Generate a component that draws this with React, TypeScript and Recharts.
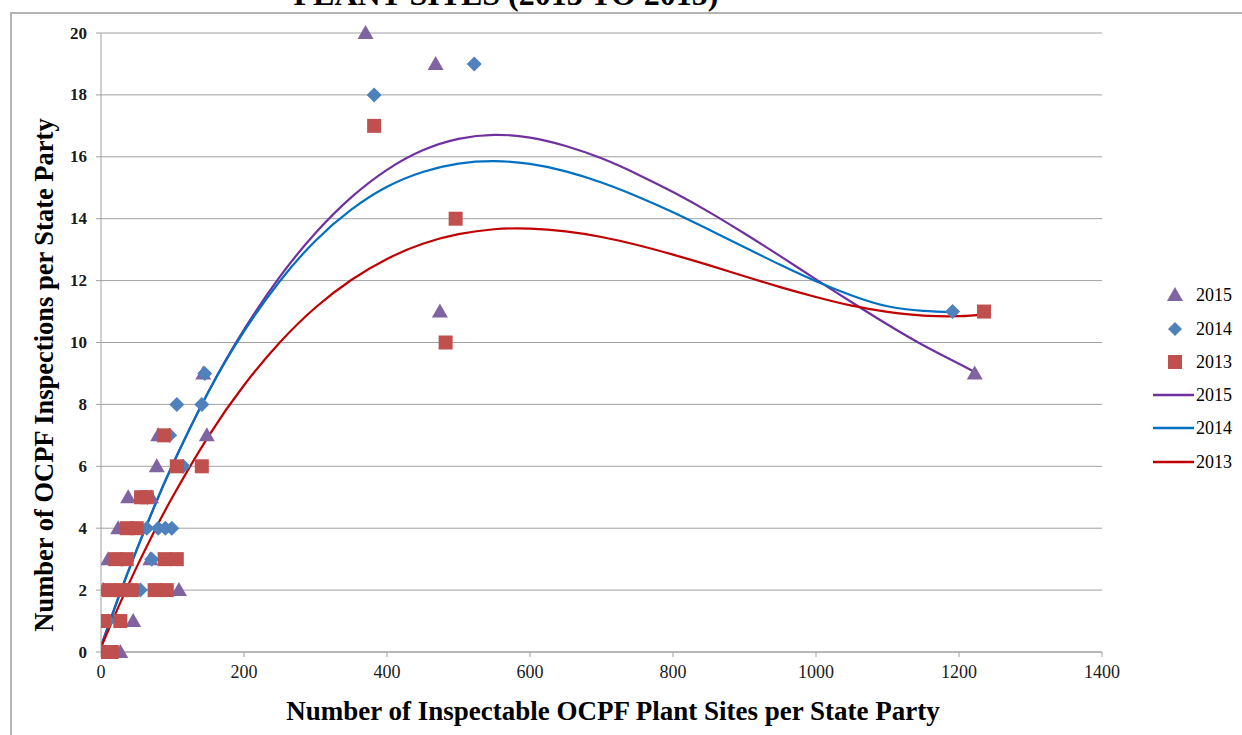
import React from 'react';
import { ComposedChart, Scatter, Line, XAxis, YAxis, CartesianGrid } from 'recharts';

// Scatter observations (x = inspectable plant sites, y = inspections)
const x2015 = [370, 468, 474, 1222, 143, 80, 148, 78, 38, 70, 24, 10, 69, 3, 109, 45, 27, 0];
const y2015 = [20, 19, 11, 9, 9, 7, 7, 6, 5, 5, 4, 3, 3, 2, 2, 1, 0, 0];

const x2014 = [382, 522, 1191, 145, 106, 141, 96, 115, 65, 64, 80, 90, 99, 71, 55, 30, 10, 0];
const y2014 = [18, 19, 11, 9, 8, 8, 7, 6, 5, 4, 4, 4, 4, 3, 2, 3, 1, 0];

const x2013 = [382, 496, 482, 1235, 88, 106, 141, 56, 64, 36, 50, 20, 36, 89, 106, 11, 28, 43, 75, 92, 4, 27, 3, 15];
const y2013 = [17, 14, 10, 11, 7, 6, 6, 5, 5, 4, 4, 3, 3, 3, 3, 2, 2, 2, 2, 2, 1, 1, 0, 0];

// Trend lines
const trendX2015 = [0, 25, 50, 75, 100, 150, 200, 250, 300, 350, 400, 450, 500, 550, 600, 650, 700, 750, 800, 850, 900, 950, 1000, 1050, 1100, 1150, 1200, 1222];
const trendY2015 = [0.2, 1.81, 3.31, 4.72, 6.04, 8.4, 10.42, 12.12, 13.54, 14.69, 15.58, 16.21, 16.58, 16.71, 16.62, 16.35, 15.95, 15.44, 14.86, 14.22, 13.52, 12.79, 12.04, 11.3, 10.58, 9.91, 9.31, 9.05];

const trendX2014 = [0, 25, 50, 75, 100, 150, 200, 250, 300, 350, 400, 450, 500, 550, 600, 650, 700, 750, 800, 850, 900, 950, 1000, 1050, 1100, 1150, 1191];
const trendY2014 = [0.15, 1.79, 3.31, 4.73, 6.05, 8.39, 10.36, 11.98, 13.29, 14.29, 15.03, 15.51, 15.78, 15.86, 15.77, 15.53, 15.17, 14.72, 14.21, 13.65, 13.08, 12.51, 11.98, 11.52, 11.17, 11.02, 10.98];

const trendX2013 = [0, 25, 50, 75, 100, 150, 200, 250, 300, 350, 400, 450, 500, 550, 600, 650, 700, 750, 800, 850, 900, 950, 1000, 1050, 1100, 1150, 1200, 1235];
const trendY2013 = [0.15, 1.49, 2.75, 3.92, 5.01, 6.96, 8.62, 10.0, 11.13, 12.02, 12.7, 13.19, 13.5, 13.66, 13.68, 13.59, 13.41, 13.15, 12.84, 12.5, 12.14, 11.79, 11.47, 11.19, 10.99, 10.87, 10.85, 10.91];

const xTicks = [0, 200, 400, 600, 800, 1000, 1200, 1400];
const yTicks = [0, 2, 4, 6, 8, 10, 12, 14, 16, 18, 20];

const zip = (xs: number[], ys: number[]) => xs.map((x, i) => ({ x, y: ys[i] }));

const pts2015 = zip(x2015, y2015);
const pts2014 = zip(x2014, y2014);
const pts2013 = zip(x2013, y2013);
const tr2015 = zip(trendX2015, trendY2015);
const tr2014 = zip(trendX2014, trendY2014);
const tr2013 = zip(trendX2013, trendY2013);

const C_TRI = '#8064A2';
const C_DIA = '#4F81BD';
const C_SQ = '#C0504D';
const L2015 = '#7030A0';
const L2014 = '#0070C0';
const L2013 = '#C00000';

const FONT = '"Liberation Serif", "Times New Roman", serif';

const Tri = (p: any) => {
  const { cx, cy } = p;
  if (cx == null || cy == null) return <g />;
  return <polygon points={`${cx},${cy - 8} ${cx - 8},${cy + 6} ${cx + 8},${cy + 6}`} fill={C_TRI} />;
};
const Dia = (p: any) => {
  const { cx, cy } = p;
  if (cx == null || cy == null) return <g />;
  return <polygon points={`${cx},${cy - 7.5} ${cx + 7.5},${cy} ${cx},${cy + 7.5} ${cx - 7.5},${cy}`} fill={C_DIA} />;
};
const Sq = (p: any) => {
  const { cx, cy } = p;
  if (cx == null || cy == null) return <g />;
  return <rect x={cx - 7} y={cy - 7} width={14} height={14} fill={C_SQ} />;
};

const XTick = (p: any) => {
  const { x, y, payload } = p;
  return (
    <text x={x} y={y + 7} textAnchor="middle" dominantBaseline="central" fontFamily={FONT} fontSize={18} fill="#1a1a1a">
      {payload.value}
    </text>
  );
};
const YTick = (p: any) => {
  const { x, y, payload } = p;
  return (
    <text x={x} y={y} textAnchor="end" dominantBaseline="central" fontFamily={FONT} fontSize={17} fontWeight="bold" fill="#1a1a1a">
      {payload.value}
    </text>
  );
};

const legendRows = [
  { kind: 'tri', label: '2015', y: 295 },
  { kind: 'dia', label: '2014', y: 329 },
  { kind: 'sq', label: '2013', y: 362 },
  { kind: 'line', color: L2015, label: '2015', y: 395 },
  { kind: 'line', color: L2014, label: '2014', y: 428 },
  { kind: 'line', color: L2013, label: '2013', y: 462 },
];

export default function App() {
  return (
    <div style={{ position: 'absolute', left: 0, top: 0, width: 1242, height: 735, overflow: 'hidden', background: '#fff' }}>
      <div style={{ position: 'absolute', left: 10, top: 12, width: 1300, height: 800, border: '2px solid #b4b4b4', boxSizing: 'border-box' }} />
      <div style={{ position: 'absolute', left: 0, top: 0 }}>
        <ComposedChart width={1242} height={735} margin={{ top: 33, right: 140, bottom: 43, left: 0 }}>
          <CartesianGrid vertical={false} stroke="#a0a0a0" strokeWidth={1} />
          <XAxis
            type="number"
            dataKey="x"
            domain={[0, 1400]}
            ticks={xTicks}
            interval={0}
            height={40}
            axisLine={{ stroke: '#a0a0a0' }}
            tickLine={{ stroke: '#a0a0a0' }}
            tickSize={5}
            tickMargin={8}
            tick={XTick}
            allowDataOverflow
          />
          <YAxis
            type="number"
            dataKey="y"
            domain={[0, 20]}
            ticks={yTicks}
            interval={0}
            width={101}
            axisLine={{ stroke: '#a0a0a0' }}
            tickLine={{ stroke: '#a0a0a0' }}
            tickSize={5}
            tickMargin={9}
            tick={YTick}
          />
          <Scatter data={pts2015} dataKey="y" shape={Tri} isAnimationActive={false} />
          <Scatter data={pts2014} dataKey="y" shape={Dia} isAnimationActive={false} />
          <Scatter data={pts2013} dataKey="y" shape={Sq} isAnimationActive={false} />
          <Line data={tr2015} dataKey="y" type="natural" stroke={L2015} strokeWidth={2.2} dot={false} activeDot={false} isAnimationActive={false} />
          <Line data={tr2014} dataKey="y" type="natural" stroke={L2014} strokeWidth={2.2} dot={false} activeDot={false} isAnimationActive={false} />
          <Line data={tr2013} dataKey="y" type="natural" stroke={L2013} strokeWidth={2.2} dot={false} activeDot={false} isAnimationActive={false} />
        </ComposedChart>
      </div>
      <svg width={1242} height={735} style={{ position: 'absolute', left: 0, top: 0, pointerEvents: 'none' }}>
        <text x={506} y={5} textAnchor="middle" fontFamily={FONT} fontWeight="bold" fontSize={32} fill="#000">
          PLANT SITES (2013 TO 2015)
        </text>
        <text
          x={44}
          y={375}
          transform="rotate(-90 44 375)"
          textAnchor="middle"
          dominantBaseline="central"
          fontFamily={FONT}
          fontWeight="bold"
          fontSize={26.5}
          fill="#000"
        >
          Number of OCPF Inspections per State Party
        </text>
        <text x={613} y={711} textAnchor="middle" dominantBaseline="central" fontFamily={FONT} fontWeight="bold" fontSize={27} fill="#000">
          Number of Inspectable OCPF Plant Sites per State Party
        </text>
        {legendRows.map((r, i) => (
          <g key={i}>
            {r.kind === 'tri' && <polygon points={`1175,${r.y - 8} 1167,${r.y + 6} 1183,${r.y + 6}`} fill={C_TRI} />}
            {r.kind === 'dia' && <polygon points={`1175,${r.y - 7} 1182,${r.y} 1175,${r.y + 7} 1168,${r.y}`} fill={C_DIA} />}
            {r.kind === 'sq' && <rect x={1168} y={r.y - 7} width={14} height={14} fill={C_SQ} />}
            {r.kind === 'line' && <line x1={1153} x2={1194} y1={r.y} y2={r.y} stroke={r.color} strokeWidth={2.5} />}
            <text x={1196} y={r.y} dominantBaseline="central" fontFamily={FONT} fontSize={18} fill="#000">
              {r.label}
            </text>
          </g>
        ))}
      </svg>
    </div>
  );
}
